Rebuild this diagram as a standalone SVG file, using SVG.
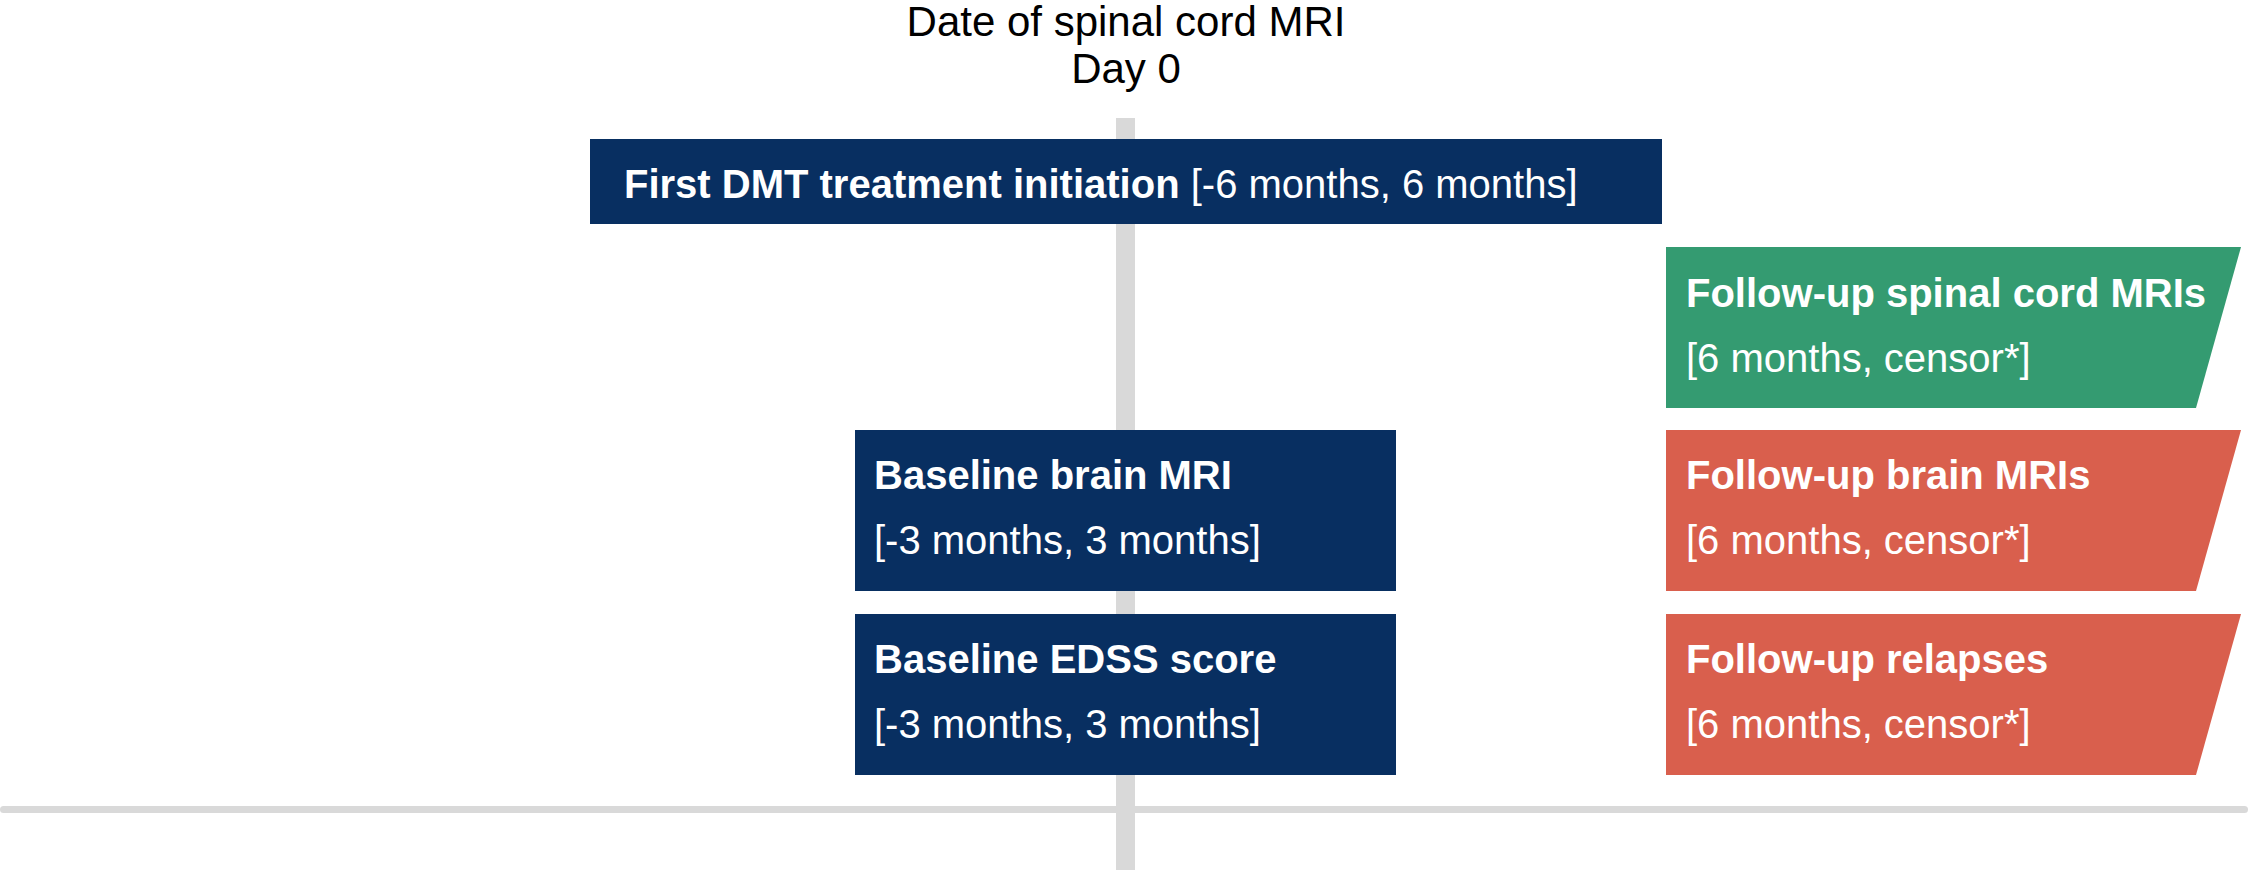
<svg xmlns="http://www.w3.org/2000/svg" width="2250" height="874" viewBox="0 0 2250 874">
<style>
text{font-family:"Liberation Sans",Arial,sans-serif;font-size:40px}
.t{font-size:42px;fill:#000}
.w{fill:#fff}.b{font-weight:bold}
.navy{fill:#082f61}.green{fill:#349b71}.red{fill:#d95f4d}
</style>
<rect width="2250" height="874" fill="#fff"/>
<g id="axes">
<rect x="1116" y="118" width="19" height="752" fill="#d9d9d9"/>
<rect x="0" y="806" width="2248" height="7" rx="3.5" fill="#d9d9d9"/>
</g>
<g id="day0">
<text class="t" x="1126" y="36" text-anchor="middle">Date of spinal cord MRI</text>
<text class="t" x="1126" y="83" text-anchor="middle">Day 0</text>
</g>
<g id="dmt"><rect class="navy" x="590" y="139" width="1072" height="85"/>
<text class="w" x="624" y="198"><tspan class="b">First DMT treatment initiation</tspan> [-6 months, 6 months]</text></g>
<g id="brain"><rect class="navy" x="855" y="430" width="541" height="161"/>
<text class="w b" x="874" y="489">Baseline brain MRI</text><text class="w" x="874" y="554">[-3 months, 3 months]</text></g>
<g id="edss"><rect class="navy" x="855" y="614" width="541" height="161"/>
<text class="w b" x="874" y="673">Baseline EDSS score</text><text class="w" x="874" y="738">[-3 months, 3 months]</text></g>
<g id="fu-spinal"><polygon class="green" points="1666,247 2241,247 2196,408 1666,408"/>
<text class="w b" x="1686" y="307">Follow-up spinal cord MRIs</text><text class="w" x="1686" y="372">[6 months, censor*]</text></g>
<g id="fu-brain"><polygon class="red" points="1666,430 2241,430 2196,591 1666,591"/>
<text class="w b" x="1686" y="489">Follow-up brain MRIs</text><text class="w" x="1686" y="554">[6 months, censor*]</text></g>
<g id="fu-relapse"><polygon class="red" points="1666,614 2241,614 2196,775 1666,775"/>
<text class="w b" x="1686" y="673">Follow-up relapses</text><text class="w" x="1686" y="738">[6 months, censor*]</text></g>
</svg>
